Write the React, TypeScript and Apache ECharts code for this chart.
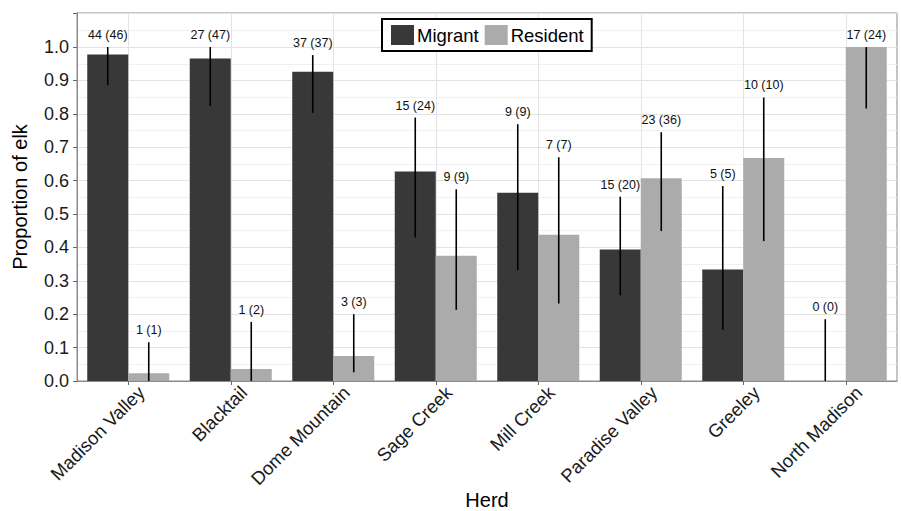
import React, { useEffect, useRef } from "react";
import * as echarts from "echarts";

const herds = [
  "Madison Valley",
  "Blacktail",
  "Dome Mountain",
  "Sage Creek",
  "Mill Creek",
  "Paradise Valley",
  "Greeley",
  "North Madison",
];
const migrant = [0.978, 0.966, 0.926, 0.627, 0.564, 0.394, 0.334, 0];
const resident = [0.023, 0.036, 0.075, 0.375, 0.438, 0.607, 0.668, 1.0];
const migrantLow = [0.886, 0.824, 0.803, 0.43, 0.332, 0.257, 0.153, 0];
const migrantHigh = [1.0, 1.0, 0.976, 0.789, 0.769, 0.552, 0.584, 0.185];
const residentLow = [0, 0, 0.026, 0.213, 0.232, 0.449, 0.419, 0.816];
const residentHigh = [0.116, 0.177, 0.2, 0.574, 0.67, 0.745, 0.849, 1.0];
const migrantN = [44, 27, 37, 15, 9, 15, 5, 0];
const migrantTotal = [46, 47, 37, 24, 9, 20, 5, 0];
const residentN = [1, 1, 3, 9, 7, 23, 10, 17];
const residentTotal = [1, 2, 3, 9, 7, 36, 10, 24];

const FONT = "'Liberation Sans', Arial, Helvetica, sans-serif";

function errorSeries(low: number[], high: number[], n: number[], tot: number[], offset: number) {
  return {
    type: "custom",
    z: 5,
    silent: true,
    encode: { x: 0, y: [1, 2] },
    data: low.map((lo, i) => [i, lo, high[i]]),
    renderItem: (params: any, api: any) => {
      const idx = api.value(0);
      const lo = api.value(1);
      const hi = api.value(2);
      const band = api.size([1, 0])[0];
      const pLo = api.coord([idx, lo]);
      const pHi = api.coord([idx, hi]);
      const x = pLo[0] + offset * band;
      const i = params.dataIndex;
      return {
        type: "group",
        children: [
          {
            type: "line",
            shape: { x1: x, y1: pLo[1], x2: x, y2: pHi[1] },
            style: { stroke: "#000", lineWidth: 1.6 },
          },
          {
            type: "text",
            x: x,
            y: pHi[1] - 12,
            style: {
              text: `${n[i]} (${tot[i]})`,
              align: "center",
              verticalAlign: "middle",
              fontSize: 12.5,
              fontFamily: FONT,
              fill: "#111",
            },
          },
        ],
      };
    },
  };
}

export default function App() {
  const ref = useRef<HTMLDivElement>(null);
  useEffect(() => {
    if (!ref.current) return;
    const chart = echarts.init(ref.current, undefined, { renderer: "svg" });
    chart.setOption({
      animation: false,
      backgroundColor: "#fff",
      textStyle: { fontFamily: FONT },
      legend: {
        data: ["Migrant", "Resident"],
        left: 382,
        top: 19,
        padding: [6, 8, 6, 9],
        itemGap: 6,
        itemWidth: 23,
        itemHeight: 20,
        icon: "rect",
        borderColor: "#000",
        borderWidth: 2,
        backgroundColor: "#fff",
        textStyle: { fontSize: 18.5, color: "#000", fontFamily: FONT, padding: [0, 0, 0, -2] },
      },
      grid: {
        left: 77,
        right: 4,
        top: 13,
        bottom: 130,
        show: true,
        borderColor: "#8a8a8a",
        borderWidth: 1,
        outerBoundsMode: "none",
      },
      xAxis: {
        type: "category",
        data: herds,
        name: "Herd",
        nameLocation: "middle",
        nameGap: 109,
        nameMoveOverlap: false,
        nameTextStyle: { fontSize: 20, color: "#000", fontFamily: FONT },
        axisLine: { show: true, lineStyle: { color: "#8a8a8a" } },
        axisTick: { show: true, alignWithLabel: true, length: 4, lineStyle: { color: "#666" } },
        splitLine: { show: true, alignWithLabel: true, lineStyle: { color: "#e3e3e3", width: 1 } },
        axisLabel: {
          rotate: 45,
          margin: 8,
          fontSize: 18.5,
          color: "#1a1a1a",
          fontFamily: FONT,
          interval: 0,
          verticalAlign: "top",
          padding: [0, -9, 0, 0],
        },
      },
      yAxis: {
        type: "value",
        min: 0,
        max: 1.102,
        interval: 0.1,
        name: "Proportion of elk",
        nameLocation: "middle",
        nameGap: 47,
        nameTextStyle: { fontSize: 20, color: "#000", fontFamily: FONT },
        axisLine: { show: true, lineStyle: { color: "#8a8a8a" } },
        axisTick: { show: true, length: 4, lineStyle: { color: "#666" } },
        axisLabel: {
          margin: 8,
          fontSize: 18,
          color: "#1a1a1a",
          fontFamily: FONT,
          formatter: (v: number) => (v > 1.05 ? "" : v.toFixed(1)),
        },
        splitLine: { show: true, lineStyle: { color: "#e3e3e3", width: 1 } },
        minorTick: { show: false, splitNumber: 2 },
        minorSplitLine: { show: true, lineStyle: { color: "#f1f1f1", width: 1 } },
      },
      series: [
        {
          name: "Migrant",
          type: "bar",
          data: migrant,
          barGap: "0%",
          barCategoryGap: "20%",
          itemStyle: { color: "#383838" },
          z: 2,
        },
        {
          name: "Resident",
          type: "bar",
          data: resident,
          barGap: "0%",
          barCategoryGap: "20%",
          itemStyle: { color: "#ababab" },
          z: 2,
        },
        errorSeries(migrantLow, migrantHigh, migrantN, migrantTotal, -0.2),
        errorSeries(residentLow, residentHigh, residentN, residentTotal, 0.2),
      ],
    });
    return () => chart.dispose();
  }, []);
  return (
    <div
      ref={ref}
      style={{ position: "absolute", left: 0, top: 0, width: 901, height: 511 }}
    />
  );
}
